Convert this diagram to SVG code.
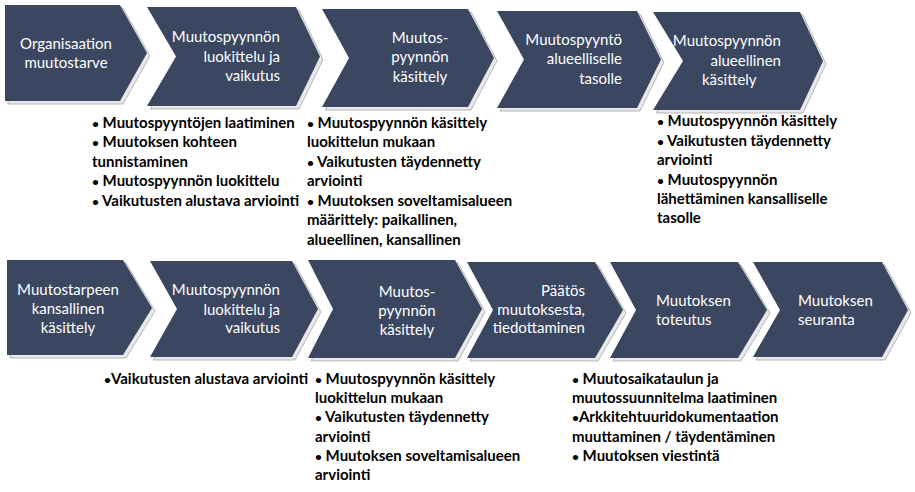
<svg xmlns="http://www.w3.org/2000/svg" width="915" height="492" viewBox="0 0 915 492">
<style>
.bg{fill:#ffffff}
.shadow{fill:#e8e8e8;stroke:#b0b0b0;stroke-width:0.9}
.chev{fill:#3b4661}
.lbl{font-family:Lato,"Liberation Sans",sans-serif;font-size:15px;fill:#ffffff}
.mid{text-anchor:middle}
.end{text-anchor:end}
.bul{font-family:Lato,"Liberation Sans",sans-serif;font-size:15px;font-weight:bold;fill:#000000}
.dot{font-size:12px}
</style>
<rect class="bg" x="0" y="0" width="915" height="492"/>

<g id="connectors"></g>

<!-- Top row -->
<g id="n1">
<polygon class="shadow" transform="translate(3,3)" points="5,5 120,5 147,53 120,101 5,101"/>
<polygon class="chev" points="5,5 120,5 147,53 120,101 5,101"/>
<text class="lbl mid" x="66" y="49">Organisaation</text>
<text class="lbl mid" x="66" y="68">muutostarve</text>
</g>
<g id="n2">
<polygon class="shadow" transform="translate(3,3)" points="147,7 296,7 320,56.5 296,106 147,106 176,56.5"/>
<polygon class="chev" points="147,7 296,7 320,56.5 296,106 147,106 176,56.5"/>
<text class="lbl end" x="280" y="42">Muutospyynnön</text>
<text class="lbl end" x="280" y="62">luokittelu ja</text>
<text class="lbl end" x="280" y="81">vaikutus</text>
</g>
<g id="n3">
<polygon class="shadow" transform="translate(3,3)" points="322,9 468,9 494,58 468,107 322,107 349,58"/>
<polygon class="chev" points="322,9 468,9 494,58 468,107 322,107 349,58"/>
<text class="lbl mid" x="420" y="43">Muutos-</text>
<text class="lbl mid" x="420" y="62">pyynnön</text>
<text class="lbl mid" x="420" y="82">käsittely</text>
</g>
<g id="n4">
<polygon class="shadow" transform="translate(3,3)" points="497,11 637,11 661,59.5 637,108 497,108 524,59.5"/>
<polygon class="chev" points="497,11 637,11 661,59.5 637,108 497,108 524,59.5"/>
<text class="lbl end" x="622" y="45">Muutospyyntö</text>
<text class="lbl end" x="622" y="64">alueelliselle</text>
<text class="lbl end" x="622" y="84">tasolle</text>
</g>
<g id="n5">
<polygon class="shadow" transform="translate(3,3)" points="653,12 800,12 823,61 800,110 653,110 683,61"/>
<polygon class="chev" points="653,12 800,12 823,61 800,110 653,110 683,61"/>
<text class="lbl end" x="781" y="46">Muutospyynnön</text>
<text class="lbl end" x="781" y="66">alueellinen</text>
<text class="lbl" x="702" y="85">käsittely</text>
</g>

<!-- Top row bullet texts -->
<g id="t1">
<text class="bul" x="92" y="127.5"><tspan class="dot">•</tspan> Muutospyyntöjen laatiminen</text>
<text class="bul" x="92" y="147"><tspan class="dot">•</tspan> Muutoksen kohteen</text>
<text class="bul" x="92" y="166.5">tunnistaminen</text>
<text class="bul" x="92" y="186"><tspan class="dot">•</tspan> Muutospyynnön luokittelu</text>
<text class="bul" x="92" y="205.5"><tspan class="dot">•</tspan> Vaikutusten alustava arviointi</text>
</g>
<g id="t2">
<text class="bul" x="307" y="127.5"><tspan class="dot">•</tspan> Muutospyynnön käsittely</text>
<text class="bul" x="307" y="147">luokittelun mukaan</text>
<text class="bul" x="307" y="166.5"><tspan class="dot">•</tspan> Vaikutusten täydennetty</text>
<text class="bul" x="307" y="186">arviointi</text>
<text class="bul" x="307" y="205.5"><tspan class="dot">•</tspan> Muutoksen soveltamisalueen</text>
<text class="bul" x="307" y="225">määrittely: paikallinen,</text>
<text class="bul" x="307" y="244.5">alueellinen, kansallinen</text>
</g>
<g id="t3">
<text class="bul" x="657" y="126"><tspan class="dot">•</tspan> Muutospyynnön käsittely</text>
<text class="bul" x="657" y="145.5"><tspan class="dot">•</tspan> Vaikutusten täydennetty</text>
<text class="bul" x="657" y="165">arviointi</text>
<text class="bul" x="657" y="184.5"><tspan class="dot">•</tspan> Muutospyynnön</text>
<text class="bul" x="657" y="204">lähettäminen kansalliselle</text>
<text class="bul" x="657" y="223">tasolle</text>
</g>

<!-- Bottom row -->
<g id="n6">
<polygon class="shadow" transform="translate(3,3)" points="7,260 123,260 152,308 123,355 7,355"/>
<polygon class="chev" points="7,260 123,260 152,308 123,355 7,355"/>
<text class="lbl mid" x="68" y="295">Muutostarpeen</text>
<text class="lbl mid" x="68" y="314">kansallinen</text>
<text class="lbl mid" x="68" y="333">käsittely</text>
</g>
<g id="n7">
<polygon class="shadow" transform="translate(3,3)" points="150,261 292,261 318,309 292,357 150,357 177,309"/>
<polygon class="chev" points="150,261 292,261 318,309 292,357 150,357 177,309"/>
<text class="lbl end" x="280" y="295">Muutospyynnön</text>
<text class="lbl end" x="280" y="315">luokittelu ja</text>
<text class="lbl end" x="280" y="333">vaikutus</text>
</g>
<g id="n8">
<polygon class="shadow" transform="translate(3,3)" points="308,260 455,260 482,309 455,358 308,358 333,309"/>
<polygon class="chev" points="308,260 455,260 482,309 455,358 308,358 333,309"/>
<text class="lbl mid" x="407" y="297">Muutos-</text>
<text class="lbl mid" x="407" y="316">pyynnön</text>
<text class="lbl mid" x="407" y="335">käsittely</text>
</g>
<g id="n9">
<polygon class="shadow" transform="translate(3,3)" points="467,262 595,262 623,310 595,358 467,358 493,310"/>
<polygon class="chev" points="467,262 595,262 623,310 595,358 467,358 493,310"/>
<text class="lbl end" x="585" y="296">Päätös</text>
<text class="lbl end" x="585" y="315">muutoksesta,</text>
<text class="lbl end" x="585" y="333">tiedottaminen</text>
</g>
<g id="n10">
<polygon class="shadow" transform="translate(3,3)" points="610,262 738,262 767,310 738,358 610,358 636,310"/>
<polygon class="chev" points="610,262 738,262 767,310 738,358 610,358 636,310"/>
<text class="lbl" x="656" y="306">Muutoksen</text>
<text class="lbl" x="656" y="325">toteutus</text>
</g>
<g id="n11">
<polygon class="shadow" transform="translate(3,3)" points="753,262 882,262 908,310 882,357 753,357 780,310"/>
<polygon class="chev" points="753,262 882,262 908,310 882,357 753,357 780,310"/>
<text class="lbl" x="798" y="306">Muutoksen</text>
<text class="lbl" x="798" y="325">seuranta</text>
</g>

<!-- Bottom row bullet texts -->
<g id="t4">
<text class="bul" x="104" y="384"><tspan class="dot">•</tspan>Vaikutusten alustava arviointi</text>
</g>
<g id="t5">
<text class="bul" x="315" y="384"><tspan class="dot">•</tspan> Muutospyynnön käsittely</text>
<text class="bul" x="315" y="403">luokittelun mukaan</text>
<text class="bul" x="315" y="422"><tspan class="dot">•</tspan> Vaikutusten täydennetty</text>
<text class="bul" x="315" y="441.5">arviointi</text>
<text class="bul" x="315" y="461"><tspan class="dot">•</tspan> Muutoksen soveltamisalueen</text>
<text class="bul" x="315" y="480">arviointi</text>
</g>
<g id="t6">
<text class="bul" x="572" y="384"><tspan class="dot">•</tspan> Muutosaikataulun ja</text>
<text class="bul" x="572" y="403">muutossuunnitelma laatiminen</text>
<text class="bul" x="572" y="422"><tspan class="dot">•</tspan>Arkkitehtuuridokumentaation</text>
<text class="bul" x="572" y="441.5">muuttaminen / täydentäminen</text>
<text class="bul" x="572" y="461"><tspan class="dot">•</tspan> Muutoksen viestintä</text>
</g>
</svg>
